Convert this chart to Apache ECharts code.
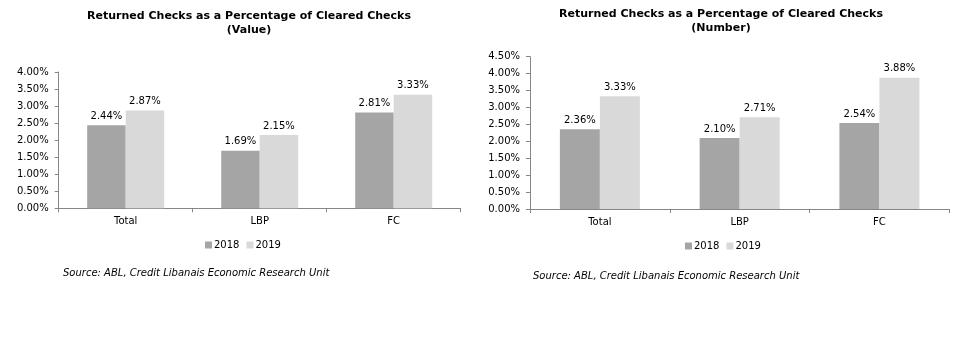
<!DOCTYPE html>
<html><head><meta charset="utf-8">
<script src="https://cdn.jsdelivr.net/npm/echarts@6/dist/echarts.min.js"></script>
<style>html,body{margin:0;padding:0;background:#fff}#c{width:973px;height:345px}</style>
</head><body><div id="c"></div>
<script>
var categories = ['Total', 'LBP', 'FC'];
var seriesNames = ['2018', '2019'];
var value2018 = [2.44, 1.69, 2.81];
var value2019 = [2.87, 2.15, 3.33];
var number2018 = [2.36, 2.10, 2.54];
var number2019 = [3.33, 2.71, 3.88];
var leftTicks = {min: 0, max: 4, interval: 0.5};
var rightTicks = {min: 0, max: 4.5, interval: 0.5};
var titleValue = 'Returned Checks as a Percentage of Cleared Checks\n(Value)';
var titleNumber = 'Returned Checks as a Percentage of Cleared Checks\n(Number)';
var sourceText = 'Source: ABL, Credit Libanais Economic Research Unit';
var sourceText2 = 'Source: ABL, Credit Libanais Economic Research Unit';

var FONT = 'DejaVu Sans';
var C18 = '#a5a5a5', C19 = '#d9d9d9', AX = '#868686';
var chart = echarts.init(document.getElementById('c'), null, {renderer: 'canvas'});

function xAxis(gi) {
  return {
    type: 'category', gridIndex: gi, data: categories,
    axisLine: {lineStyle: {color: AX}},
    axisTick: {show: true, length: 4, lineStyle: {color: AX}},
    axisLabel: {color: '#000', fontFamily: FONT, fontSize: 10, margin: 8}
  };
}
function yAxis(gi, t) {
  return {
    type: 'value', gridIndex: gi, min: t.min, max: t.max, interval: t.interval,
    axisLine: {show: true, lineStyle: {color: AX}},
    axisTick: {show: true, length: 4, lineStyle: {color: AX}},
    splitLine: {show: false},
    axisLabel: {color: '#000', fontFamily: FONT, fontSize: 10, margin: 10,
      formatter: function (v) { return v.toFixed(2) + '%'; }}
  };
}
function bar(name, data, gi, color, w) {
  return {
    type: 'bar', name: name, data: data, xAxisIndex: gi, yAxisIndex: gi,
    barWidth: w, barGap: '0%',
    itemStyle: {color: color},
    label: {show: true, position: 'top', distance: 4, color: '#000',
      fontFamily: FONT, fontSize: 10,
      formatter: function (p) { return p.value.toFixed(2) + '%'; }},
    emphasis: {disabled: true}, animation: false
  };
}
function legend(left, top) {
  return {
    left: left, top: top, padding: 0, itemWidth: 7, itemHeight: 7, itemGap: 7,
    icon: 'rect', data: seriesNames, selectedMode: false,
    textStyle: {color: '#000', fontFamily: FONT, fontSize: 10, padding: [0, 0, 0, -3]}
  };
}
function ttl(text, left, top, align, extra) {
  var ts = {fontFamily: FONT, color: '#000'};
  for (var k in extra) ts[k] = extra[k];
  return {text: text, left: left, top: top, textAlign: align, padding: 0, textStyle: ts};
}

chart.setOption({
  animation: false,
  title: [
    ttl(titleValue, 249, 9, 'center', {fontSize: 11, fontWeight: 'bold', lineHeight: 14}),
    ttl(titleNumber, 721, 7, 'center', {fontSize: 11, fontWeight: 'bold', lineHeight: 14}),
    ttl(sourceText, 63, 268, 'left', {fontSize: 10, fontStyle: 'italic', fontWeight: 'normal'}),
    ttl(sourceText2, 533, 271, 'left', {fontSize: 10, fontStyle: 'italic', fontWeight: 'normal'})
  ],
  legend: [legend(205, 240), legend(685, 241)],
  grid: [
    {left: 58.7, width: 402, top: 72, height: 136.3},
    {left: 530, width: 419.3, top: 56.7, height: 152.3}
  ],
  xAxis: [xAxis(0), xAxis(1)],
  yAxis: [yAxis(0, leftTicks), yAxis(1, rightTicks)],
  series: [
    bar(seriesNames[0], value2018, 0, C18, 38.5),
    bar(seriesNames[1], value2019, 0, C19, 38.5),
    bar(seriesNames[0], number2018, 1, C18, 40),
    bar(seriesNames[1], number2019, 1, C19, 40)
  ]
});
</script></body></html>
